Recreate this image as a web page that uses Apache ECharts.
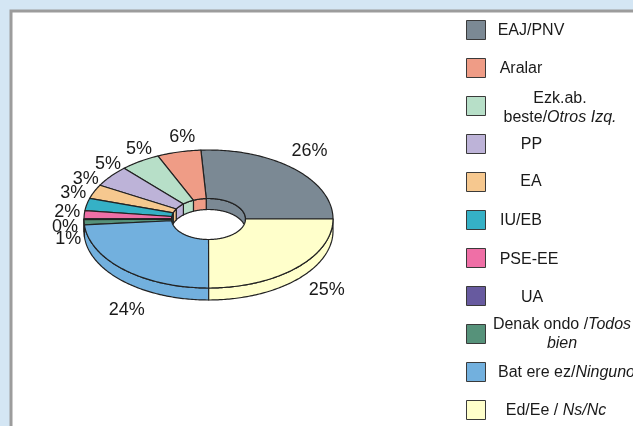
<!DOCTYPE html>
<html><head><meta charset="utf-8">
<style>html,body{margin:0;padding:0;background:#d4e6f4;overflow:hidden}#c{width:633px;height:426px}</style>
<script src="https://cdn.jsdelivr.net/npm/echarts@6/dist/echarts.min.js"></script>
</head><body><div id="c"></div>
<script>
// ---- data (order of the legend, running anticlockwise from the 3 o'clock edge of EAJ/PNV)
var parties = ['EAJ/PNV','Aralar','Ezk.ab. beste/Otros Izq.','PP','EA','IU/EB','PSE-EE','UA','Denak ondo /Todos bien','Bat ere ez/Ninguno','Ed/Ee / Ns/Nc'];
var shares  = [26.0,5.7,5.2,5.0,3.3,2.9,1.9,0.2,1.2,23.7,25.0];
var percentLabels = ['26%','6%','5%','5%','3%','3%','2%','0%','1%','24%','25%'];
var colors  = ['#7b8994','#ef9c86','#b7dfc8','#bdb3d8','#f6c88f','#35b1c6','#ef6fa6','#675a9f','#56927a','#72b0de','#ffffcb'];
var legendRich = ['{n|EAJ/PNV}','{n|Aralar}','{n|Ezk.ab.}\n{n|beste/}{i|Otros Izq.}','{n|PP}','{n|EA}','{n|IU/EB}','{n|PSE-EE}','{n|UA}','{n|Denak ondo /}{i|Todos}\n{i|bien}','{n|Bat ere ez/}{i|Ninguno}','{n|Ed/Ee / }{i|Ns/Nc}'];

// ---- layout
var cx=208.5, cy=219, rx=124.5, ry=69, irx=37, iry=20.5, depth=12, holeDepth=11, line='#222222';
var labelNudge=[[2,-8],[8,-1],[10,-1],[13,-4],[10,-7],[6,-8],[3,-2],[1,8],[4,16],[16,30],[16,12]];
var legendText=[[531,31],[521,69],[560,108.5],[531.5,145],[531,182],[521,221],[529,260],[532,298],[562,334.5],[498,373,'left'],[556,411]];
var legendTop=19.5, legendStep=38.05, swatch=19;

var total=shares.reduce(function(a,b){return a+b;},0);
var cum=[],acc=0; shares.forEach(function(v){cum.push(acc);acc+=v;});
function ang(p){return (90-p/total*360)*Math.PI/180;}
function P(a,b,t,dy){return [cx+a*Math.sin(t),cy-b*Math.cos(t)+(dy||0)];}
function arc(t0,t1,f){var n=Math.max(2,Math.ceil(Math.abs(t1-t0)/0.015)),o=[];for(var i=0;i<=n;i++)o.push(f(t0+(t1-t0)*i/n));return o;}

function renderItem(params,api){
  var i=params.dataIndex, v=api.value(0);
  var t0=ang(cum[i]), t1=ang(cum[i]+v), ch=[], st={fill:colors[i],stroke:line,lineWidth:1.2,lineJoin:'round'};
  // outer wall: front half of the rim
  var lo=Math.max(t1,-1.5*Math.PI), hi=Math.min(t0,-0.5*Math.PI);
  if(hi>lo){
    var up=arc(hi,lo,function(t){return P(rx,ry,t);});
    var dn=arc(lo,hi,function(t){return P(rx,ry,t,depth);});
    ch.push({type:'polygon',shape:{points:up.concat(dn)},style:st});
  }
  // inner wall: back half of the hole, cut by its front rim
  var lo2=Math.max(t1,-Math.PI/2), hi2=Math.min(t0,Math.PI/2);
  if(hi2>lo2){
    var up2=arc(hi2,lo2,function(t){return P(irx,iry,t);});
    var dn2=arc(lo2,hi2,function(t){var p=P(irx,iry,t);p[1]=Math.min(p[1]+holeDepth,cy+iry*Math.cos(t));return p;});
    ch.push({type:'polygon',shape:{points:up2.concat(dn2)},style:st});
  }
  // top face
  var top=arc(t0,t1,function(t){return P(rx,ry,t);}).concat(arc(t1,t0,function(t){return P(irx,iry,t);}));
  ch.push({type:'polygon',z2:5,shape:{points:top},style:st});
  // percentage label
  var m=ang(cum[i]+v/2), n=labelNudge[i];
  ch.push({type:'text',z2:10,style:{text:percentLabels[i],x:cx+(rx+20)*Math.sin(m)+n[0],y:cy-(ry+14)*Math.cos(m)+n[1],
    fill:'#1a1a1a',font:'18px "Liberation Sans", Arial, sans-serif',textAlign:'center',textVerticalAlign:'middle'}});
  return {type:'group',children:ch};
}

var graphic=[{type:'rect',shape:{x:11,y:11,width:700,height:500},style:{fill:'#ffffff',stroke:'#9c9c9c',lineWidth:3}}];
parties.forEach(function(p,i){
  var y=legendTop+i*legendStep;
  graphic.push({type:'rect',shape:{x:466.5,y:Math.round(y)+.5,width:swatch,height:swatch},style:{fill:colors[i],stroke:'#3a3a3a',lineWidth:1}});
  var L=legendText[i];
  graphic.push({type:'text',x:L[0],y:L[1],style:{text:legendRich[i],textAlign:L[2]||'center',textVerticalAlign:'middle',
    rich:{n:{font:'16px "Liberation Sans", Arial, sans-serif',fill:'#1a1a1a',lineHeight:19},
          i:{font:'italic 16px "Liberation Sans", Arial, sans-serif',fill:'#1a1a1a',lineHeight:19}}}});
});

var chart=echarts.init(document.getElementById('c'),null,{renderer:'canvas'});
chart.setOption({
  animation:false,
  backgroundColor:'#d4e6f4',
  graphic:graphic,
  series:[{type:'custom',coordinateSystem:'none',silent:true,renderItem:renderItem,
    data:shares.map(function(v,i){return {name:parties[i],value:[v]};})}]
});
</script></body></html>
